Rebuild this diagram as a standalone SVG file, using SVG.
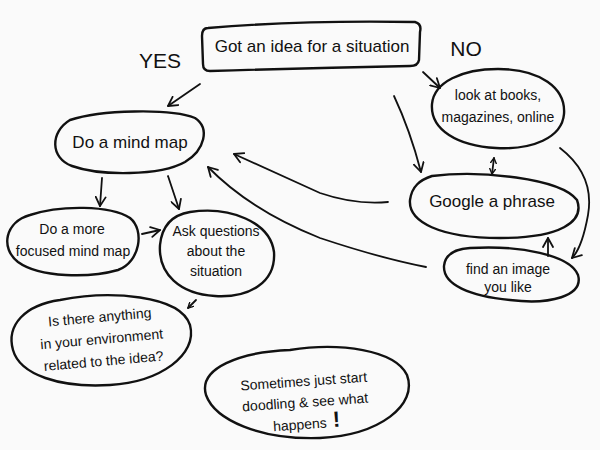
<svg xmlns="http://www.w3.org/2000/svg" width="600" height="450" viewBox="0 0 600 450">
<defs>
<marker id="arr" viewBox="0 0 12 12" refX="10" refY="6" markerWidth="12" markerHeight="12" markerUnits="userSpaceOnUse" orient="auto-start-reverse">
<path d="M1,1 L10,6 L1,11" fill="none" stroke="#111" stroke-width="1.8" stroke-linecap="round" stroke-linejoin="round"/>
</marker>
<marker id="sm" viewBox="0 0 12 12" refX="10" refY="6" markerWidth="7" markerHeight="7" markerUnits="userSpaceOnUse" orient="auto-start-reverse">
<path d="M1,1 L10,6 L1,11" fill="none" stroke="#111" stroke-width="2.4" stroke-linecap="round" stroke-linejoin="round"/>
</marker>
<style>
.s{fill:none;stroke:#111;stroke-width:2.4;stroke-linecap:round;stroke-linejoin:round}
.c{fill:none;stroke:#111;stroke-width:1.8;stroke-linecap:round}
text{font-family:"Liberation Sans","DejaVu Sans",sans-serif;fill:#111;text-anchor:middle}
.t{font-size:17px}
.m{font-size:14px}
.lab{font-size:21px}
</style>
</defs>
<rect width="600" height="450" fill="#fafafa"/>
<g id="connectors">
<path class="c" d="M200,84 L168,106" marker-end="url(#arr)"/>
<path class="c" d="M423,72 L440,88" marker-end="url(#arr)"/>
<path class="c" d="M394,96 Q410,130 421,172" marker-end="url(#arr)"/>
<path class="c" d="M494,158 L492,174" marker-start="url(#sm)" marker-end="url(#sm)"/>
<path class="c" d="M560,148 Q595,175 588,215 Q582,248 572,258" marker-end="url(#arr)"/>
<path class="c" d="M548,256 L548,238" marker-end="url(#arr)"/>
<path class="c" d="M388,202 Q355,205 320,193 Q280,175 234,154" marker-end="url(#arr)"/>
<path class="c" d="M426,267 Q380,258 320,238 Q250,210 208,167" marker-end="url(#arr)"/>
<path class="c" d="M102,178 L100,206" marker-end="url(#arr)"/>
<path class="c" d="M168,176 L179,209" marker-end="url(#arr)"/>
<path class="c" d="M142,234 L160,230" marker-end="url(#arr)"/>
<path class="c" d="M196,300 L188,308" marker-end="url(#sm)"/>
</g>
<g id="labels">
<text class="lab" x="160" y="68">YES</text>
<text class="lab" x="466" y="56">NO</text>
</g>
<g id="start">
<path class="s" d="M208,28 Q300,20 415,22 Q422,24 420,32 L419,60 Q418,66 410,66 Q310,68 210,71 Q203,71 203,64 L202,36 Q202,28 208,28 Z"/>
<text class="t" x="312" y="52">Got an idea for a situation</text>
</g>
<g id="books">
<path class="s" d="M498,69 C540,69 566,88 564,114 C562,138 532,150 496,148 C458,146 430,130 432,104 C434,82 462,69 498,69 Z"/>
<text class="m" x="498" y="100">look at books,</text>
<text class="m" x="498" y="122">magazines, online</text>
</g>
<g id="mindmap">
<path class="s" d="M70,120 C100,110 170,108 195,118 C210,128 205,150 185,162 C160,176 100,176 72,166 C50,158 50,132 70,120 Z"/>
<text class="t" x="130" y="148">Do a mind map</text>
</g>
<g id="google">
<path class="s" d="M432,176 C480,170 560,178 577,200 C585,222 560,238 500,238 C440,238 408,222 410,200 C412,186 420,180 432,176 Z"/>
<text class="t" x="492" y="207">Google a phrase</text>
</g>
<g id="findimage">
<path class="s" d="M470,248 C520,245 570,255 578,275 C584,296 550,305 510,300 C470,296 443,285 444,266 C445,254 455,249 470,248 Z"/>
<text class="m" x="508" y="274">find an image</text>
<text class="m" x="508" y="292">you like</text>
</g>
<g id="focused">
<path class="s" d="M30,215 C60,205 110,205 130,218 C145,230 140,262 118,270 C90,278 40,278 18,262 C0,248 5,222 30,215 Z"/>
<text class="m" x="72" y="234">Do a more</text>
<text class="m" x="73" y="256" font-size="13">focused mind map</text>
</g>
<g id="questions">
<path class="s" d="M190,212 C230,206 270,222 274,252 C276,282 250,298 215,296 C180,294 158,274 160,245 C162,225 172,215 190,212 Z"/>
<text class="m" x="216" y="236">Ask questions</text>
<text class="m" x="216" y="256">about the</text>
<text class="m" x="216" y="276">situation</text>
</g>
<g id="environment">
<path class="s" d="M60,300 C110,290 180,295 190,325 C198,355 160,382 110,385 C60,388 20,375 13,350 C6,325 25,305 60,300 Z"/>
<g transform="rotate(-5 100 343)">
<text class="m" x="102" y="322">Is there anything</text>
<text class="m" x="102" y="344">in your environment</text>
<text class="m" x="102" y="366">related to the idea?</text>
</g>
</g>
<g id="doodle">
<path class="s" d="M290,350 C340,342 395,350 407,375 C418,405 380,435 320,438 C260,440 215,420 206,395 C198,368 240,352 290,350 Z"/>
<g transform="rotate(-4 305 400)">
<text class="m" x="305" y="386">Sometimes just start</text>
<text class="m" x="305" y="407">doodling &amp; see what</text>
<text class="m" x="305" y="429">happens<tspan font-size="22" font-weight="bold"> !</tspan></text>
</g>
</g>
</svg>
